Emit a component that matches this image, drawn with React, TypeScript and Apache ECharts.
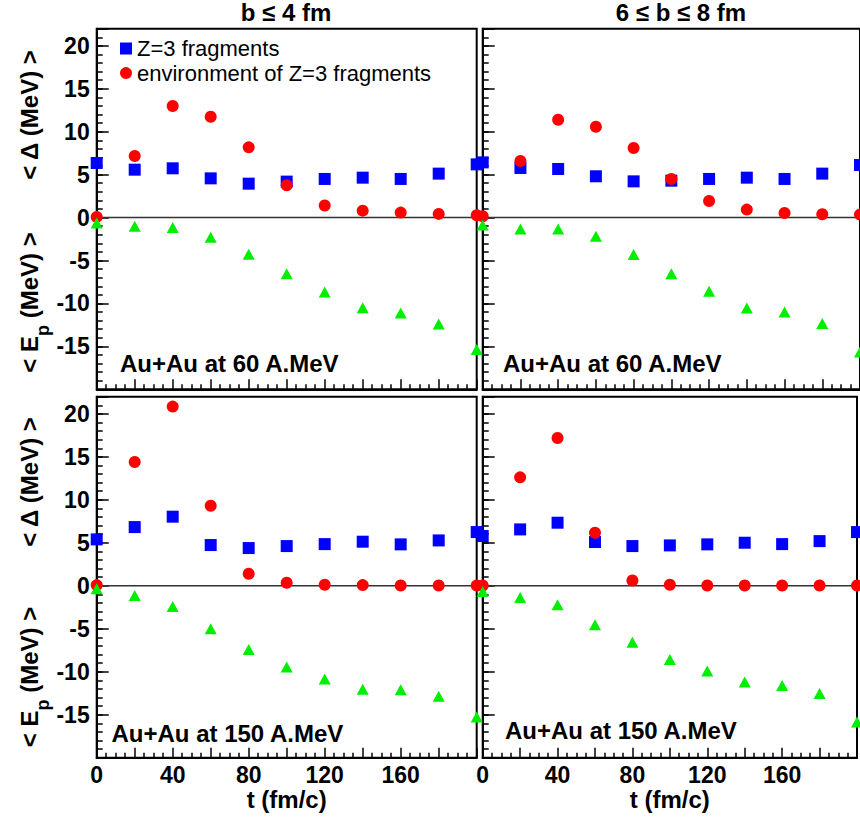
import React, { useEffect, useRef } from 'react';
import * as echarts from 'echarts';

// ---------- data ----------
const tValues = [0, 20, 40, 60, 80, 100, 120, 140, 160, 180, 200];
const xTickLabels = ['0', '40', '80', '120', '160'];
const yTickLabels = ['-15', '-10', '-5', '0', '5', '10', '15', '20'];

const panelTitles = ['b ≤ 4 fm', '6 ≤ b ≤ 8 fm'];
const panelSystems = ['Au+Au at 60 A.MeV', 'Au+Au at 60 A.MeV', 'Au+Au at 150 A.MeV', 'Au+Au at 150 A.MeV'];
const seriesNames = ['Z=3 fragments', 'environment of Z=3 fragments', '< E_p >'];

// b <= 4 fm, 60 A.MeV
const frag60Central = [6.36, 5.58, 5.74, 4.57, 3.95, 4.19, 4.5, 4.65, 4.5, 5.12, 6.2];
const env60Central = [0.08, 7.17, 13.0, 11.74, 8.18, 3.76, 1.4, 0.81, 0.58, 0.43, 0.27];
const ep60Central = [-0.62, -1.0, -1.16, -2.29, -4.26, -6.55, -8.68, -10.5, -11.12, -12.4, -15.35];

// 6 <= b <= 8 fm, 60 A.MeV
const frag60Peripheral = [6.43, 5.78, 5.66, 4.81, 4.22, 4.3, 4.5, 4.65, 4.5, 5.12, 6.12];
const env60Peripheral = [0.15, 6.59, 11.4, 10.58, 8.1, 4.5, 1.94, 0.93, 0.54, 0.39, 0.35];
const ep60Peripheral = [-0.85, -1.32, -1.32, -2.17, -4.3, -6.55, -8.57, -10.54, -11.0, -12.33, -15.66];

// b <= 4 fm, 150 A.MeV
const frag150Central = [5.4, 6.83, 8.04, 4.74, 4.39, 4.62, 4.85, 5.13, 4.82, 5.28, 6.25];
const env150Central = [0.08, 14.4, 20.85, 9.32, 1.4, 0.35, 0.12, 0.08, 0.04, 0.04, 0.04];
const ep150Central = [-0.35, -1.13, -2.41, -5.0, -7.42, -9.44, -10.83, -12.04, -12.08, -12.85, -15.26];

// 6 <= b <= 8 fm, 150 A.MeV
const frag150Peripheral = [5.79, 6.56, 7.34, 5.09, 4.62, 4.7, 4.82, 5.01, 4.85, 5.2, 6.25];
const env150Peripheral = [0.04, 12.62, 17.2, 6.17, 0.62, 0.12, 0.04, 0.04, 0.04, 0.04, 0.04];
const ep150Peripheral = [-0.66, -1.36, -2.21, -4.54, -6.56, -8.58, -9.9, -11.18, -11.61, -12.54, -15.84];

const panelData = [
  [frag60Central, env60Central, ep60Central],
  [frag60Peripheral, env60Peripheral, ep60Peripheral],
  [frag150Central, env150Central, ep150Central],
  [frag150Peripheral, env150Peripheral, ep150Peripheral],
];

// ---------- styling ----------
const FONT = '"Liberation Sans", Arial, Helvetica, sans-serif';
const COLORS = ['#0000ff', '#ff0000', '#00ee00'];
const SYMBOLS = ['rect', 'circle', 'triangle'];
const SIZES: any[] = [12, 12, [12, 11]];

const gridRects = [
  { left: 96.7, top: 28.7, width: 380, height: 360.6 },
  { left: 482.7, top: 28.7, width: 380, height: 360.6 },
  { left: 96.7, top: 396.7, width: 380, height: 361 },
  { left: 482.7, top: 396.7, width: 380, height: 361 },
];

function measure(text: string, font: string): number {
  const c = document.createElement('canvas').getContext('2d');
  if (!c) return text.length * 12;
  c.font = font;
  return c.measureText(text).width;
}

export default function App() {
  const ref = useRef<HTMLDivElement>(null);

  useEffect(() => {
    if (!ref.current) return;
    const chart = echarts.init(ref.current, undefined, { renderer: 'svg' });

    const grid = gridRects.map((g) => ({
      ...g,
      show: true,
      borderColor: '#000',
      borderWidth: 2,
      backgroundColor: 'transparent',
    }));

    const xAxis = gridRects.map((_, i) => ({
      type: 'value',
      gridIndex: i,
      min: 0,
      max: 200,
      interval: 20,
      position: 'bottom',
      axisLine: { show: true, onZero: false, lineStyle: { color: '#000', width: 2 } },
      axisTick: { show: true, inside: true, length: 10, lineStyle: { color: '#000', width: 1.5 } },
      minorTick: { show: true, splitNumber: 4, length: 5, lineStyle: { color: '#000', width: 1.5 } },
      splitLine: { show: false },
      minorSplitLine: { show: false },
      axisLabel: {
        show: i >= 2,
        margin: 6,
        fontSize: 23,
        fontWeight: 'bold',
        fontFamily: FONT,
        color: '#000',
        formatter: (v: number) => (xTickLabels.includes(String(v)) ? String(v) : ''),
      },
      name: i >= 2 ? 't (fm/c)' : '',
      nameLocation: 'middle',
      nameGap: 30,
      nameTextStyle: { fontSize: 24, fontWeight: 'bold', fontFamily: FONT, color: '#000' },
    }));

    const yMajor = gridRects.map((_, i) => ({
      type: 'value',
      gridIndex: i,
      min: -20,
      max: 22,
      interval: 5,
      position: 'left',
      axisLine: { show: true, onZero: false, lineStyle: { color: '#000', width: 2 } },
      axisTick: { show: true, inside: true, length: 12, lineStyle: { color: '#000', width: 1.5 } },
      minorTick: { show: false },
      splitLine: { show: false },
      axisLabel: {
        show: i % 2 === 0,
        margin: 7,
        fontSize: 23,
        fontWeight: 'bold',
        fontFamily: FONT,
        color: '#000',
        formatter: (v: number) => (yTickLabels.includes(String(v)) ? String(v) : ''),
      },
    }));
    const yMinor = gridRects.map((_, i) => ({
      type: 'value',
      gridIndex: i,
      min: -20,
      max: 22,
      interval: 1,
      position: 'left',
      axisLine: { show: false, onZero: false },
      axisTick: { show: true, inside: true, length: 6, lineStyle: { color: '#000', width: 1.5 } },
      splitLine: { show: false },
      axisLabel: { show: false },
    }));

    const series: any[] = [];
    panelData.forEach((sets, p) => {
      series.push({
        type: 'line',
        name: 'zero',
        xAxisIndex: p,
        yAxisIndex: p,
        data: [[0, 0], [200, 0]],
        symbol: 'none',
        silent: true,
        z: 1,
        lineStyle: { color: '#333', width: 1.5 },
      });
      sets.forEach((vals, s) => {
        series.push({
          type: 'scatter',
          name: seriesNames[s],
          xAxisIndex: p,
          yAxisIndex: p,
          clip: false,
          symbol: SYMBOLS[s],
          symbolSize: SIZES[s],
          itemStyle: { color: COLORS[s], opacity: 1 },
          data: tValues.map((t, k) => [t, vals[k]]),
          z: 2 + s,
        });
      });
    });

    // rotated axis titles
    const mainFont = `bold 24px ${FONT}`;
    const subFont = `bold 18px ${FONT}`;
    const w1 = measure('< E', mainFont);
    const w2 = measure('p', subFont);
    const w3 = measure(' (MeV) >', mainFont);
    const W = w1 + w2 + w3;
    const textBase = { fontSize: 24, fontWeight: 'bold', fontFamily: FONT, fill: '#000', verticalAlign: 'middle' };
    const graphic: any[] = [];
    [115, 482].forEach((cy) => {
      graphic.push({
        type: 'text', x: 29, y: cy, rotation: Math.PI / 2,
        style: { ...textBase, text: '< Δ (MeV) >', align: 'center' },
      });
    });
    [302.5, 677].forEach((cy) => {
      const start = cy + W / 2;
      graphic.push({ type: 'text', x: 29, y: start, rotation: Math.PI / 2, style: { ...textBase, text: '< E', align: 'left' } });
      graphic.push({ type: 'text', x: 43, y: start - w1, rotation: Math.PI / 2, style: { ...textBase, fontSize: 18, text: 'p', align: 'left' } });
      graphic.push({ type: 'text', x: 29, y: start - w1 - w2, rotation: Math.PI / 2, style: { ...textBase, text: ' (MeV) >', align: 'left' } });
    });
    // column titles
    graphic.push({ type: 'text', x: 286, y: 12.5, style: { ...textBase, text: panelTitles[0], align: 'center' } });
    graphic.push({ type: 'text', x: 681, y: 12.5, style: { ...textBase, text: panelTitles[1], align: 'center' } });
    // system labels
    const sysPos = [[120, 363], [503, 363], [111.5, 733.7], [505, 730.3]];
    sysPos.forEach(([x, y], i) => {
      graphic.push({ type: 'text', x, y, z: 10, style: { ...textBase, text: panelSystems[i], align: 'left' } });
    });

    chart.setOption({
      animation: false,
      backgroundColor: '#fff',
      grid,
      xAxis,
      yAxis: [...yMajor, ...yMinor],
      legend: {
        show: true,
        orient: 'vertical',
        left: 120,
        top: 37.5,
        padding: 0,
        itemWidth: 12,
        itemHeight: 12,
        itemGap: 2.6,
        selectedMode: false,
        data: [seriesNames[0], seriesNames[1]],
        textStyle: { fontSize: 22, lineHeight: 22, fontFamily: FONT, color: '#000' },
      },
      series,
      graphic,
    });

    return () => chart.dispose();
  }, []);

  return <div ref={ref} style={{ position: 'absolute', left: 0, top: 0, width: 860, height: 824 }} />;
}
